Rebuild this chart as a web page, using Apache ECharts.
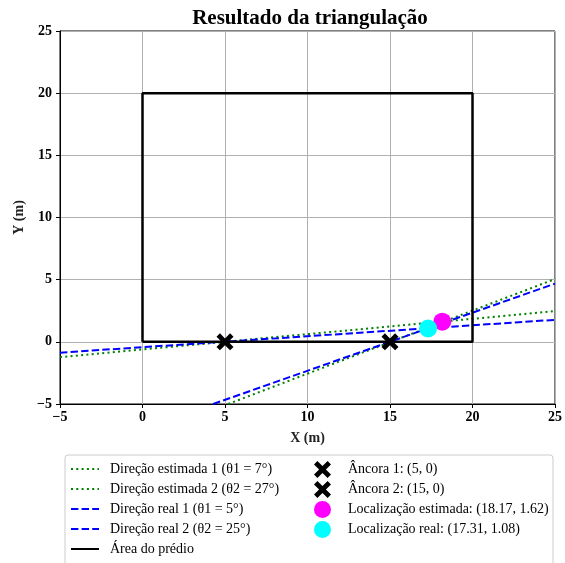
<!DOCTYPE html>
<html><head><meta charset="utf-8">
<script src="https://cdn.jsdelivr.net/npm/echarts@6/dist/echarts.min.js"></script>
<style>html,body{margin:0;padding:0;background:#fff}#c{width:565px;height:563px}</style>
</head><body><div id="c"></div>
<script>
// Axis ranges
const xRange = [-5, 25];
const yRange = [-5, 25];
const tickStep = 5;

// Direction lines (endpoints)
const estDir1 = [[-5, -1.23], [25, 2.47]];
const estDir2 = [[5.19, -5], [25, 5.05]];
const realDir1 = [[-5, -0.87], [25, 1.77]];
const realDir2 = [[4.28, -5], [25, 4.68]];

// Building outline
const building = [[0, 0], [20, 0], [20, 20], [0, 20], [0, 0]];

// Points
const anchor1 = [[5, 0]];
const anchor2 = [[15, 0]];
const estLoc = [[18.17, 1.62]];
const realLoc = [[17.31, 1.08]];

const names = {
  est1: 'Direção estimada 1 (θ1 = 7°)',
  est2: 'Direção estimada 2 (θ2 = 27°)',
  real1: 'Direção real 1 (θ1 = 5°)',
  real2: 'Direção real 2 (θ2 = 25°)',
  bld: 'Área do prédio',
  a1: 'Âncora 1: (5, 0)',
  a2: 'Âncora 2: (15, 0)',
  le: 'Localização estimada: (18.17, 1.62)',
  lr: 'Localização real: (17.31, 1.08)'
};

const serif = '"Liberation Serif", "DejaVu Serif", serif';
const xMark = 'path://M2,0 L5,3 L8,0 L10,2 L7,5 L10,8 L8,10 L5,7 L2,10 L0,8 L3,5 L0,2 Z';

const chart = echarts.init(document.getElementById('c'), null, {renderer: 'canvas'});

function axisCommon(name) {
  return {
    type: 'value', interval: tickStep,
    name: name, nameLocation: 'middle',
    nameTextStyle: {fontFamily: serif, fontWeight: 'bold', fontSize: 14, color: '#222'},
    axisLine: {show: true, onZero: false, lineStyle: {color: '#000', width: 1}},
    axisTick: {show: true, inside: false, length: 4, lineStyle: {color: '#000', width: 1}},
    axisLabel: {fontFamily: serif, fontWeight: 'bold', fontSize: 14, color: '#000',
      formatter: v => String(v).replace('-', '\u2212')},
    splitLine: {show: true, lineStyle: {color: '#b0b0b0', width: 1}}
  };
}

const xAxis = Object.assign(axisCommon('X (m)'), {min: xRange[0], max: xRange[1], nameGap: 27});
xAxis.axisLabel.margin = 6;
const yAxis = Object.assign(axisCommon('Y (m)'), {min: yRange[0], max: yRange[1], nameGap: 32, nameRotate: 90});
yAxis.axisLabel.margin = 8;

function lineSeries(name, data, color, type) {
  return {
    name: name, type: 'line', data: data, symbol: 'none', animation: false,
    lineStyle: {color: color, width: 2, type: type},
    itemStyle: {color: color}, clip: true
  };
}
function pointSeries(name, data, color, symbol, size) {
  return {
    name: name, type: 'scatter', data: data, symbol: symbol, symbolSize: size,
    itemStyle: {color: color, opacity: 1}, animation: false, z: 5
  };
}

const hiddenSym = {color: 'rgba(0,0,0,0)', borderColor: 'rgba(0,0,0,0)', borderWidth: 0, opacity: 0};

chart.setOption({
  backgroundColor: '#fff',
  animation: false,
  title: {
    text: 'Resultado da triangulação', left: 305, top: 3, textAlign: 'center',
    textStyle: {fontFamily: serif, fontWeight: 'bold', fontSize: 21, color: '#000'}
  },
  grid: {left: 60, right: 7, top: 31, bottom: 159, show: true, borderColor: '#000', borderWidth: 1},
  xAxis: xAxis,
  yAxis: yAxis,
  graphic: [{
    type: 'rect', z: 0, silent: true,
    shape: {x: 65, y: 455, width: 488, height: 120, r: 3},
    style: {fill: 'rgba(255,255,255,0.8)', stroke: '#cccccc', lineWidth: 1}
  }],
  legend: [{
    orient: 'vertical', left: 70, top: 461, padding: 0,
    itemWidth: 28, itemHeight: 16, itemGap: 4,
    itemStyle: hiddenSym,
    textStyle: {fontFamily: serif, fontSize: 14, color: '#000', lineHeight: 16, padding: [0, 0, 0, 6]},
    data: [names.est1, names.est2, names.real1, names.real2, names.bld]
  }, {
    orient: 'vertical', left: 314, top: 461, padding: 0,
    itemWidth: 17, itemHeight: 17, itemGap: 3,
    textStyle: {fontFamily: serif, fontSize: 14, color: '#000', lineHeight: 17, padding: [0, 0, 0, 12]},
    data: [names.a1, names.a2, names.le, names.lr]
  }],
  series: [
    lineSeries(names.est1, estDir1, '#008000', [2, 3.3]),
    lineSeries(names.est2, estDir2, '#008000', [2, 3.3]),
    lineSeries(names.real1, realDir1, '#0000ff', [7.4, 3.2]),
    lineSeries(names.real2, realDir2, '#0000ff', [7.4, 3.2]),
    Object.assign(lineSeries(names.bld, building, '#000000', 'solid'), {lineStyle: {color: '#000', width: 2.5}}),
    pointSeries(names.a1, anchor1, '#000000', xMark, 17),
    pointSeries(names.a2, anchor2, '#000000', xMark, 17),
    pointSeries(names.le, estLoc, '#ff00ff', 'circle', 18),
    pointSeries(names.lr, realLoc, '#00ffff', 'circle', 18)
  ]
});
</script>
</body></html>
